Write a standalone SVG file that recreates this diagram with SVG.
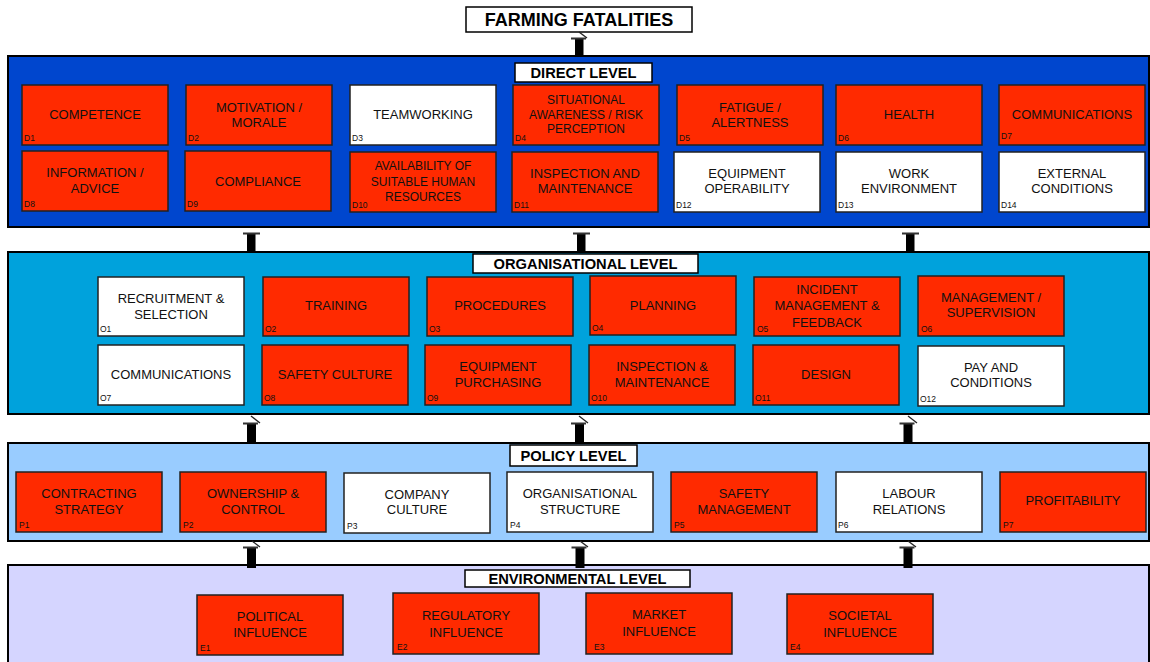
<svg xmlns="http://www.w3.org/2000/svg" width="1150" height="662" viewBox="0 0 1150 662">
<style>
.panel{stroke:#000;stroke-width:2}
.lbl{fill:#fff;stroke:#000;stroke-width:1.5}
.lt{font-family:"Liberation Sans",Arial,sans-serif;font-weight:bold;font-size:14.7px;fill:#000;text-anchor:middle}
.red{fill:#FF2A00;stroke:#222;stroke-width:1.5}
.wht{fill:#fff;stroke:#222;stroke-width:1.5}
.t{font-family:"Liberation Sans",Arial,sans-serif;font-size:13px;fill:#111;text-anchor:middle}
.t12{font-size:12px}
.id{font-family:"Liberation Sans",Arial,sans-serif;font-size:8.5px;fill:#111}
.shaft{fill:#000}
.head{fill:#333}
.tick{stroke:#222;stroke-width:1.3;fill:none}
</style>
<rect width="1150" height="662" fill="#fff"/>
<!-- panels -->
<rect class="panel" x="8" y="56" width="1141" height="171" fill="#0046CE"/>
<rect class="panel" x="8" y="252" width="1141" height="162" fill="#00A2DC"/>
<rect class="panel" x="8" y="443" width="1141" height="98" fill="#99CCFF"/>
<rect class="panel" x="8" y="565" width="1141" height="100" fill="#D5D5FF"/>
<!-- title -->
<g id="title">
<rect x="466" y="7" width="226" height="25" class="lbl"/>
<text x="579" y="26" class="lt" style="font-size:18px">FARMING FATALITIES</text>
</g>
<g id="label-direct"><rect x="515" y="63" width="137" height="19" class="lbl"/><text x="583.5" y="78" class="lt">DIRECT LEVEL</text></g>
<g id="label-org"><rect x="473" y="254" width="225" height="19" class="lbl"/><text x="585.5" y="269" class="lt">ORGANISATIONAL LEVEL</text></g>
<g id="label-policy"><rect x="510" y="445" width="127" height="21" class="lbl"/><text x="573.5" y="461" class="lt">POLICY LEVEL</text></g>
<g id="label-env"><rect x="465" y="570" width="225" height="17" class="lbl"/><text x="577.5" y="584" class="lt">ENVIRONMENTAL LEVEL</text></g>
<!-- connectors -->
<g id="connectors">
<rect class="shaft" x="575" y="38" width="8.5" height="18"/><rect class="head" x="571" y="37.5" width="15" height="2"/><line class="tick" x1="579" y1="32" x2="587" y2="38"/>
<rect class="shaft" x="247" y="233" width="8.5" height="19"/><rect class="head" x="243" y="232.5" width="17" height="2"/>
<rect class="shaft" x="577" y="233" width="8.5" height="19"/><rect class="head" x="573" y="232.5" width="17" height="2"/>
<rect class="shaft" x="906" y="233" width="8.5" height="19"/><rect class="head" x="902" y="232.5" width="17" height="2"/>
<rect class="shaft" x="247" y="423" width="9" height="20"/><rect class="head" x="243" y="422.5" width="15" height="2"/><line class="tick" x1="251" y1="416" x2="260" y2="423"/>
<rect class="shaft" x="575" y="423" width="9" height="20"/><rect class="head" x="571" y="422.5" width="15" height="2"/><line class="tick" x1="579" y1="416" x2="588" y2="423"/>
<rect class="shaft" x="903.5" y="423" width="9" height="20"/><rect class="head" x="899.5" y="422.5" width="15" height="2"/><line class="tick" x1="908" y1="416" x2="917" y2="423"/>
<rect class="shaft" x="247" y="547" width="9" height="21"/><rect class="head" x="243" y="546.5" width="15" height="2"/><line class="tick" x1="252" y1="541" x2="260" y2="547"/>
<rect class="shaft" x="575.5" y="547" width="9" height="21"/><rect class="head" x="571.5" y="546.5" width="15" height="2"/><line class="tick" x1="580" y1="541" x2="588" y2="547"/>
<rect class="shaft" x="903.5" y="547" width="9" height="21"/><rect class="head" x="899.5" y="546.5" width="15" height="2"/><line class="tick" x1="908" y1="541" x2="916" y2="547"/>
</g>
<!-- direct level -->
<g id="D1"><rect class="red" x="22" y="85" width="146" height="60"/><text class="t" x="95" y="119">COMPETENCE</text><text class="id" x="24" y="141">D1</text></g>
<g id="D2"><rect class="red" x="186" y="85" width="146" height="60"/><text class="t" x="259" y="111.5">MOTIVATION /</text><text class="t" x="259" y="127">MORALE</text><text class="id" x="188" y="141">D2</text></g>
<g id="D3"><rect class="wht" x="350" y="85" width="146" height="60"/><text class="t" x="423" y="119">TEAMWORKING</text><text class="id" x="352" y="141">D3</text></g>
<g id="D4"><rect class="red" x="513" y="85" width="146" height="60"/><text class="t t12" x="586" y="104.3">SITUATIONAL</text><text class="t t12" x="586" y="118.8">AWARENESS / RISK</text><text class="t t12" x="586" y="133.3">PERCEPTION</text><text class="id" x="515" y="141">D4</text></g>
<g id="D5"><rect class="red" x="677" y="85" width="146" height="60"/><text class="t" x="750" y="111.5">FATIGUE /</text><text class="t" x="750" y="127">ALERTNESS</text><text class="id" x="679" y="141">D5</text></g>
<g id="D6"><rect class="red" x="836" y="85" width="146" height="60"/><text class="t" x="909" y="119">HEALTH</text><text class="id" x="838" y="141">D6</text></g>
<g id="D7"><rect class="red" x="999" y="85" width="146" height="60"/><text class="t" x="1072" y="119">COMMUNICATIONS</text><text class="id" x="1001" y="139">D7</text></g>
<g id="D8"><rect class="red" x="22" y="151" width="146" height="60"/><text class="t" x="95" y="176.5">INFORMATION /</text><text class="t" x="95" y="193">ADVICE</text><text class="id" x="24" y="207">D8</text></g>
<g id="D9"><rect class="red" x="185" y="151" width="146" height="60"/><text class="t" x="258" y="185.7">COMPLIANCE</text><text class="id" x="187" y="207">D9</text></g>
<g id="D10"><rect class="red" x="350" y="152" width="146" height="60"/><text class="t t12" x="423" y="170.3">AVAILABILITY OF</text><text class="t t12" x="423" y="185.5">SUITABLE HUMAN</text><text class="t t12" x="423" y="201.3">RESOURCES</text><text class="id" x="352" y="208">D10</text></g>
<g id="D11"><rect class="red" x="512" y="152" width="146" height="60"/><text class="t" x="585" y="177.7">INSPECTION AND</text><text class="t" x="585" y="193.4">MAINTENANCE</text><text class="id" x="514" y="208">D11</text></g>
<g id="D12"><rect class="wht" x="674" y="152" width="146" height="60"/><text class="t" x="747" y="177.7">EQUIPMENT</text><text class="t" x="747" y="193.4">OPERABILITY</text><text class="id" x="676" y="208">D12</text></g>
<g id="D13"><rect class="wht" x="836" y="152" width="146" height="60"/><text class="t" x="909" y="177.7">WORK</text><text class="t" x="909" y="193.4">ENVIRONMENT</text><text class="id" x="838" y="208">D13</text></g>
<g id="D14"><rect class="wht" x="999" y="152" width="146" height="60"/><text class="t" x="1072" y="177.7">EXTERNAL</text><text class="t" x="1072" y="193.4">CONDITIONS</text><text class="id" x="1001" y="208">D14</text></g>
<!-- organisational level -->
<g id="O1"><rect class="wht" x="98" y="277" width="146" height="59"/><text class="t" x="171" y="303">RECRUITMENT &amp;</text><text class="t" x="171" y="318.7">SELECTION</text><text class="id" x="100" y="332">O1</text></g>
<g id="O2"><rect class="red" x="263" y="277" width="146" height="59"/><text class="t" x="336" y="310.4">TRAINING</text><text class="id" x="265" y="332">O2</text></g>
<g id="O3"><rect class="red" x="427" y="277" width="146" height="59"/><text class="t" x="500" y="310.4">PROCEDURES</text><text class="id" x="429" y="332">O3</text></g>
<g id="O4"><rect class="red" x="590" y="276" width="146" height="59"/><text class="t" x="663" y="309.8">PLANNING</text><text class="id" x="592" y="331">O4</text></g>
<g id="O5"><rect class="red" x="754" y="277" width="146" height="59"/><text class="t" x="827" y="293.7">INCIDENT</text><text class="t" x="827" y="310.4">MANAGEMENT &amp;</text><text class="t" x="827" y="327">FEEDBACK</text><text class="id" x="757" y="332">O5</text></g>
<g id="O6"><rect class="red" x="918" y="276" width="146" height="60"/><text class="t" x="991" y="302">MANAGEMENT /</text><text class="t" x="991" y="317.4">SUPERVISION</text><text class="id" x="921" y="332">O6</text></g>
<g id="O7"><rect class="wht" x="98" y="345" width="146" height="60"/><text class="t" x="171" y="378.7">COMMUNICATIONS</text><text class="id" x="100" y="401">O7</text></g>
<g id="O8"><rect class="red" x="262" y="345" width="146" height="60"/><text class="t" x="335" y="378.7">SAFETY CULTURE</text><text class="id" x="264" y="401">O8</text></g>
<g id="O9"><rect class="red" x="425" y="345" width="146" height="60"/><text class="t" x="498" y="370.7">EQUIPMENT</text><text class="t" x="498" y="386.5">PURCHASING</text><text class="id" x="427" y="401">O9</text></g>
<g id="O10"><rect class="red" x="589" y="345" width="146" height="60"/><text class="t" x="662" y="370.7">INSPECTION &amp;</text><text class="t" x="662" y="386.5">MAINTENANCE</text><text class="id" x="591" y="401">O10</text></g>
<g id="O11"><rect class="red" x="753" y="345" width="146" height="60"/><text class="t" x="826" y="378.7">DESIGN</text><text class="id" x="755" y="401">O11</text></g>
<g id="O12"><rect class="wht" x="918" y="346" width="146" height="60"/><text class="t" x="991" y="372">PAY AND</text><text class="t" x="991" y="387.4">CONDITIONS</text><text class="id" x="920" y="402">O12</text></g>
<!-- policy level -->
<g id="P1"><rect class="red" x="16" y="472" width="146" height="60"/><text class="t" x="89" y="498">CONTRACTING</text><text class="t" x="89" y="513.7">STRATEGY</text><text class="id" x="19" y="528">P1</text></g>
<g id="P2"><rect class="red" x="180" y="472" width="146" height="60"/><text class="t" x="253" y="498">OWNERSHIP &amp;</text><text class="t" x="253" y="513.7">CONTROL</text><text class="id" x="183" y="528">P2</text></g>
<g id="P3"><rect class="wht" x="344" y="473" width="146" height="60"/><text class="t" x="417" y="498.5">COMPANY</text><text class="t" x="417" y="514.3">CULTURE</text><text class="id" x="347" y="529">P3</text></g>
<g id="P4"><rect class="wht" x="507" y="472" width="146" height="60"/><text class="t" x="580" y="497.7">ORGANISATIONAL</text><text class="t" x="580" y="513.5">STRUCTURE</text><text class="id" x="510" y="528">P4</text></g>
<g id="P5"><rect class="red" x="671" y="472" width="146" height="60"/><text class="t" x="744" y="497.7">SAFETY</text><text class="t" x="744" y="513.5">MANAGEMENT</text><text class="id" x="674" y="528">P5</text></g>
<g id="P6"><rect class="wht" x="836" y="472" width="146" height="60"/><text class="t" x="909" y="498">LABOUR</text><text class="t" x="909" y="513.7">RELATIONS</text><text class="id" x="838" y="528">P6</text></g>
<g id="P7"><rect class="red" x="1000" y="472" width="146" height="60"/><text class="t" x="1073" y="505.4">PROFITABILITY</text><text class="id" x="1003" y="528">P7</text></g>
<!-- environmental level -->
<g id="E1"><rect class="red" x="197" y="595" width="146" height="60"/><text class="t" x="270" y="621.4">POLITICAL</text><text class="t" x="270" y="637.4">INFLUENCE</text><text class="id" x="200" y="651">E1</text></g>
<g id="E2"><rect class="red" x="393" y="593" width="146" height="61"/><text class="t" x="466" y="620">REGULATORY</text><text class="t" x="466" y="636.7">INFLUENCE</text><text class="id" x="397" y="650">E2</text></g>
<g id="E3"><rect class="red" x="586" y="593" width="146" height="61"/><text class="t" x="659" y="618.7">MARKET</text><text class="t" x="659" y="635.7">INFLUENCE</text><text class="id" x="594" y="650">E3</text></g>
<g id="E4"><rect class="red" x="787" y="594" width="146" height="60"/><text class="t" x="860" y="619.7">SOCIETAL</text><text class="t" x="860" y="636.7">INFLUENCE</text><text class="id" x="790" y="650">E4</text></g>
</svg>
